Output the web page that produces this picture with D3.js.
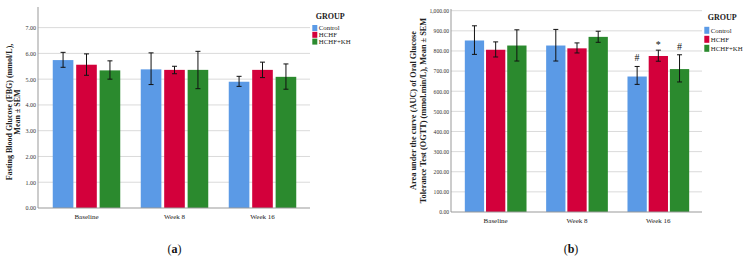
<!DOCTYPE html>
<html><head><meta charset="utf-8">
<script src="https://cdn.jsdelivr.net/npm/d3@7"></script>
<style>body{margin:0;background:#fff}svg{display:block}</style>
</head><body>
<svg id="c" width="743" height="262"></svg>
<script>
const categories = ["Baseline", "Week 8", "Week 16"];
const groups = ["Control", "HCHF", "HCHF+KH"];
const colors = ["#5b9ae6", "#d3003b", "#2b8a2e"];

// Panel (a) FBG mean and SEM bounds
const fbgMean = [[5.74, 5.56, 5.34], [5.38, 5.36, 5.36], [4.90, 5.36, 5.09]];
const fbgHigh = [[6.04, 5.98, 5.71], [6.02, 5.50, 6.08], [5.11, 5.66, 5.59]];
const fbgLow  = [[5.46, 5.15, 5.00], [4.79, 5.21, 4.63], [4.72, 5.06, 4.61]];
const fbgTicks = [0, 1, 2, 3, 4, 5, 6, 7];

// Panel (b) OGTT AUC mean and SEM bounds
const aucMean = [[852, 806, 827], [827, 813, 870], [673, 775, 710]];
const aucHigh = [[925, 845, 905], [907, 840, 898], [723, 804, 781]];
const aucLow  = [[783, 770, 750], [750, 790, 843], [634, 749, 646]];
const aucTicks = [0, 100, 200, 300, 400, 500, 600, 700, 800, 900, 1000];
const aucMarks = [[null, null, null], [null, null, null], ["#", "*", "#"]];

const svg = d3.select("#c");
const serif = "'Liberation Serif','DejaVu Serif',serif";

function panel(cfg) {
  const g = svg.append("g");
  const y = d3.scaleLinear().domain([0, cfg.yMax]).range([cfg.y0, cfg.y1]);
  const x0 = d3.scaleBand().domain(categories).range(cfg.xr).padding(0);
  const gw = cfg.groupW;
  const x1 = d3.scaleBand().domain(groups).range([0, gw]).paddingInner(cfg.pin).paddingOuter(0);
  const off = (x0.bandwidth() - gw) / 2;

  // gridlines
  g.selectAll(".grid").data(cfg.ticks.filter(t => t > 0)).join("line")
    .attr("x1", cfg.axL).attr("x2", cfg.axR)
    .attr("y1", d => y(d)).attr("y2", d => y(d))
    .attr("stroke", "#dadada").attr("stroke-width", 1);

  // y axis via d3 axis
  const ya = d3.axisLeft(y).tickValues(cfg.ticks).tickSize(0).tickPadding(2)
    .tickFormat(cfg.fmt);
  const yg = g.append("g").attr("transform", `translate(${cfg.axL},0)`).call(ya);
  yg.select(".domain").remove();
  yg.selectAll("text").attr("font-family", serif).attr("font-size", cfg.tickFs).attr("fill", "#333");
  g.append("line").attr("x1", cfg.axL).attr("x2", cfg.axL).attr("y1", cfg.axTop).attr("y2", cfg.y0)
    .attr("stroke", "#999");

  // bars
  categories.forEach((c, ci) => {
    const gg = g.append("g").attr("transform", `translate(${x0(c) + off},0)`);
    groups.forEach((s, si) => {
      const bx = x1(s), bw = x1.bandwidth(), cx = bx + bw / 2;
      gg.append("rect").attr("x", bx).attr("width", bw)
        .attr("y", y(cfg.mean[ci][si])).attr("height", cfg.y0 - y(cfg.mean[ci][si]))
        .attr("fill", colors[si]);
      const hi = y(cfg.high[ci][si]), lo = y(cfg.low[ci][si]);
      gg.append("line").attr("x1", cx).attr("x2", cx).attr("y1", hi).attr("y2", lo).attr("stroke", "#111");
      gg.append("line").attr("x1", cx - 2.5).attr("x2", cx + 2.5).attr("y1", hi).attr("y2", hi).attr("stroke", "#111");
      gg.append("line").attr("x1", cx - 2.5).attr("x2", cx + 2.5).attr("y1", lo).attr("y2", lo).attr("stroke", "#111");
      if (cfg.marks && cfg.marks[ci][si]) {
        const m = cfg.marks[ci][si];
        gg.append("text").attr("x", cx).attr("y", hi - (m === "*" ? 2 : 5))
          .attr("text-anchor", "middle").attr("font-family", serif).attr("font-size", 10)
          .attr("fill", "#111").text(m);
      }
    });
  });

  // x axis
  g.append("line").attr("x1", cfg.axL).attr("x2", cfg.axR).attr("y1", cfg.y0).attr("y2", cfg.y0)
    .attr("stroke", "#999");
  g.selectAll(".xl").data(categories).join("text")
    .attr("x", d => x0(d) + x0.bandwidth() / 2).attr("y", cfg.xlY)
    .attr("text-anchor", "middle").attr("font-family", serif).attr("font-size", 7).attr("fill", "#222")
    .text(d => d);

  // y title
  cfg.title.forEach((t, i) => {
    g.append("text").attr("transform", `translate(${cfg.titleX[i]},${cfg.titleY}) rotate(-90)`)
      .attr("text-anchor", "middle").attr("font-family", serif).attr("font-weight", "bold")
      .attr("font-size", cfg.titleFs).attr("fill", "#222").text(t);
  });

  // legend
  const L = cfg.leg;
  g.append("text").attr("x", L.x + 3.5).attr("y", L.gy).attr("font-family", serif).attr("font-weight", "bold")
    .attr("font-size", 8).attr("fill", "#222").text("GROUP");
  groups.forEach((s, i) => {
    const cy = L.y + i * L.dy;
    g.append("rect").attr("x", L.x).attr("y", cy - L.sh / 2).attr("width", 5).attr("height", L.sh).attr("fill", colors[i]);
    g.append("text").attr("x", L.x + 6.5).attr("y", cy + 2.3).attr("font-family", serif)
      .attr("font-size", 6.8).attr("fill", "#222").text(s);
  });

  // panel label
  const lab = g.append("text").attr("x", cfg.labX).attr("y", 253).attr("text-anchor", "middle")
    .attr("font-family", serif).attr("font-size", 12).attr("fill", "#111");
  lab.append("tspan").text("(");
  lab.append("tspan").attr("font-weight", "bold").text(cfg.lab);
  lab.append("tspan").text(")");
}

panel({
  yMax: 7.8, y0: 208, y1: 7, axTop: 7, axL: 38, axR: 310, xr: [42.5, 306.5], groupW: 67.5, pin: 0.12,
  ticks: fbgTicks, fmt: d3.format(".2f"), tickFs: 6,
  mean: fbgMean, high: fbgHigh, low: fbgLow, xlY: 219.2,
  title: ["Fasting Blood Glucose (FBG) (mmol/L),", "Mean ± SEM"], titleX: [12, 20], titleY: 112, titleFs: 8,
  leg: { x: 312.3, gy: 18.5, y: 28, dy: 6.8, sh: 6 }, labX: 174.5, lab: "a"
});

panel({
  yMax: 1000, y0: 212, y1: 10.7, axTop: 9, axL: 451, axR: 702, xr: [455, 699], groupW: 61.7, pin: 0.09,
  ticks: aucTicks, fmt: d3.format(",.2f"), tickFs: 5.6,
  mean: aucMean, high: aucHigh, low: aucLow, marks: aucMarks, xlY: 222.5,
  title: ["Area under the curve (AUC) of Oral Glucose", "Tolerance Test (OGTT) (mmol.min/L), Mean ± SEM"],
  titleX: [416.3, 425.7], titleY: 110.5, titleFs: 8.3,
  leg: { x: 704.3, gy: 20, y: 30.3, dy: 9, sh: 7 }, labX: 571, lab: "b"
});
</script>
</body></html>
